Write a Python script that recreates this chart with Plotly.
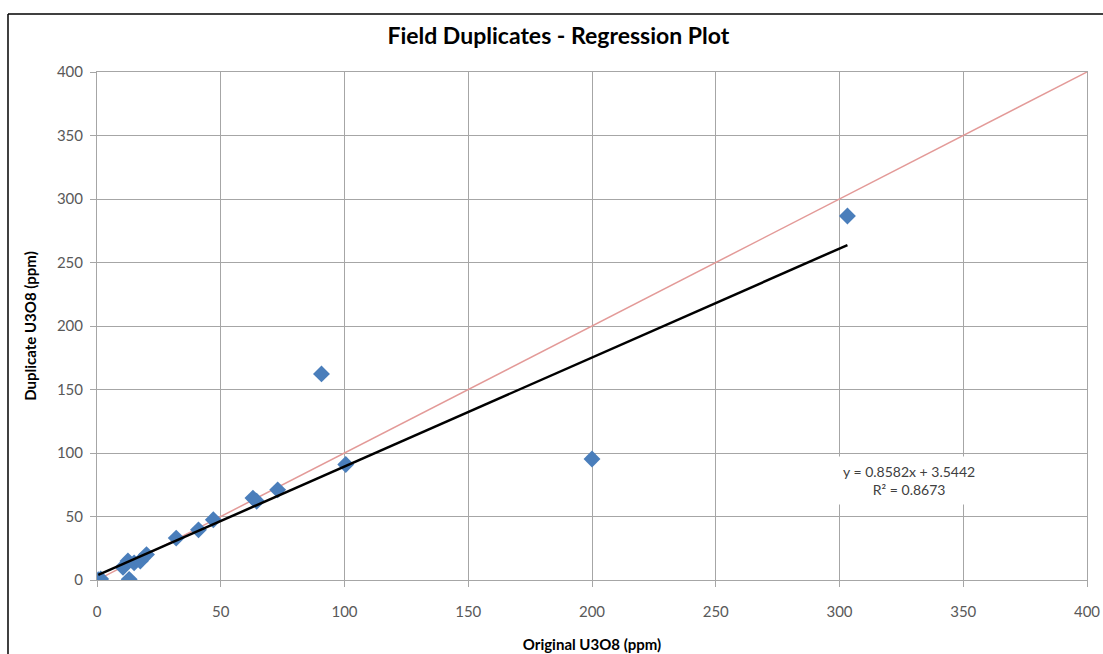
import plotly.graph_objects as go

# Field duplicate pairs (ppm U3O8)
original_ppm = [0.5, 1.5, 10.5, 12.5, 13.0, 15.0, 17.5, 20.0, 32.0, 41.0,
                47.0, 63.0, 64.5, 73.0, 90.7, 100.5, 200.0, 303.2]
duplicate_ppm = [0.3, 0.8, 10.0, 15.0, 0.5, 13.5, 15.0, 20.0, 33.0, 39.5,
                 47.5, 64.5, 62.0, 71.0, 162.3, 91.0, 95.3, 286.6]

# Least-squares fit reported on the chart
slope = 0.8582
intercept = 3.5442
r_squared = 0.8673

axis_ticks = [0, 50, 100, 150, 200, 250, 300, 350, 400]

FONT = "Lato"
GRID = "#a6a6a6"
TICK_COLOR = "#595959"

x_min, x_max = min(original_ppm), max(original_ppm)
fit_x = [x_min, x_max]
fit_y = [slope * v + intercept for v in fit_x]

fig = go.Figure()

# 1:1 reference line
fig.add_trace(go.Scatter(
    x=[axis_ticks[0], axis_ticks[-1]], y=[axis_ticks[0], axis_ticks[-1]],
    mode="lines", line=dict(color="#e39a98", width=1.5),
    hoverinfo="skip", showlegend=False,
))

# Duplicate pairs
fig.add_trace(go.Scatter(
    x=original_ppm, y=duplicate_ppm, mode="markers",
    marker=dict(symbol="diamond", size=13, color="#4a7ebb",
                line=dict(width=0)),
    showlegend=False,
))

# Linear regression line
fig.add_trace(go.Scatter(
    x=fit_x, y=fit_y, mode="lines",
    line=dict(color="#000000", width=2.5),
    showlegend=False,
))

axis_common = dict(
    range=[axis_ticks[0], axis_ticks[-1]],
    tickvals=axis_ticks,
    showgrid=True, gridcolor=GRID, gridwidth=1,
    showline=True, linecolor=GRID, linewidth=1, mirror=True,
    ticks="outside", ticklen=6, tickcolor=GRID,
    zeroline=False, automargin=False,
    tickfont=dict(family=FONT, size=15, color=TICK_COLOR),
)

fig.update_layout(
    width=1103, height=654,
    margin=dict(l=97, r=16, t=72, b=74),
    paper_bgcolor="white", plot_bgcolor="white",
    title=dict(text="<b>Field Duplicates - Regression Plot</b>",
               x=0.466, xref="paper", y=0.945, yref="container",
               xanchor="center", yanchor="middle",
               font=dict(family=FONT, size=23, color="#000000")),
    xaxis=dict(**axis_common, ticklabelstandoff=12,
               title=dict(text="<b>Original U3O8 (ppm)</b>", standoff=20,
                          font=dict(family=FONT, size=15, color="#000000"))),
    yaxis=dict(**axis_common, ticklabelstandoff=4,
               title=dict(text="<b>Duplicate U3O8 (ppm)</b>", standoff=16,
                          font=dict(family=FONT, size=15, color="#000000"))),
    annotations=[dict(
        x=328, y=78, xref="x", yref="y",
        text=f"y = {slope}x + {intercept}<br>R² = {r_squared}",
        showarrow=False, align="center",
        font=dict(family=FONT, size=14, color="#404040"),
        bgcolor="white", borderpad=6,
    )],
    shapes=[
        # outer chart frame
        dict(type="line", xref="paper", yref="paper",
             x0=-0.0899, x1=1.02, y0=1.1142, y1=1.1142,
             line=dict(color="black", width=1.5)),
        dict(type="line", xref="paper", yref="paper",
             x0=-0.0899, x1=-0.0899, y0=1.1142, y1=-0.2,
             line=dict(color="black", width=1.5)),
    ],
)

fig.write_html("out.html")
